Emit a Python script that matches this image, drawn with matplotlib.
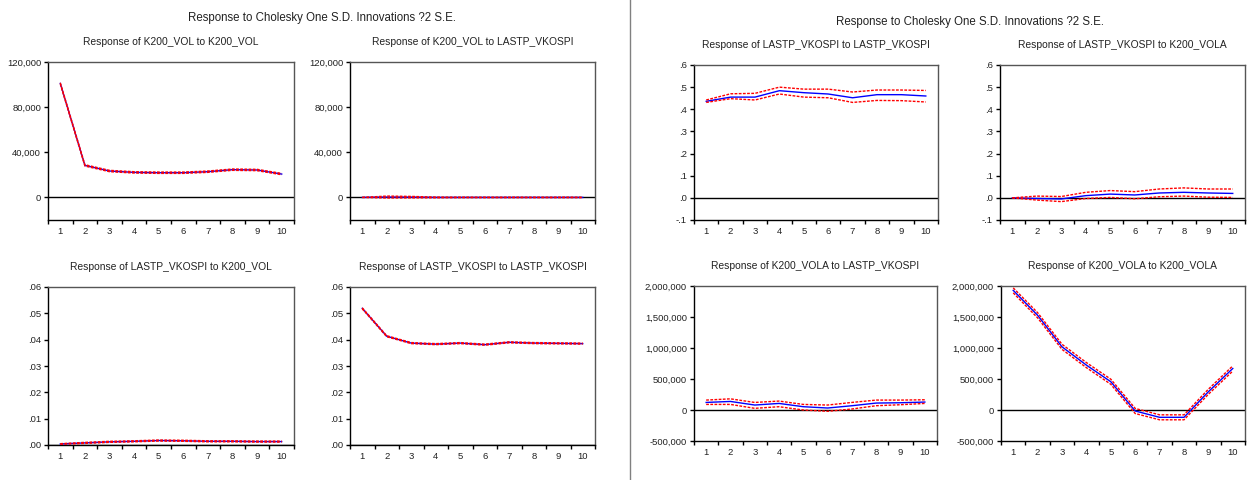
import matplotlib
matplotlib.use("Agg")
import matplotlib.pyplot as plt
from matplotlib.ticker import FixedLocator, FuncFormatter
import numpy as np

W, H = 1254, 480

periods = [1, 2, 3, 4, 5, 6, 7, 8, 9, 10]
main_title = "Response to Cholesky One S.D. Innovations ?2 S.E."

# left block (K200_VOL / LASTP_VKOSPI)
vol_vol = [101000, 28400, 23400, 22200, 21900, 21900, 22800, 24600, 24300, 20700]
vol_vol_hi = [101600, 29000, 24000, 22800, 22500, 22500, 23400, 25200, 24900, 21300]
vol_vol_lo = [100400, 27800, 22800, 21600, 21300, 21300, 22200, 24000, 23700, 20100]

vol_vk = [0, 300, 200, 0, 0, 0, 0, 0, 0, 0]
vol_vk_hi = [0, 1200, 900, 300, 200, 200, 200, 200, 200, 200]
vol_vk_lo = [0, -500, -400, -300, -200, -200, -200, -200, -200, -200]

vk_vol = [0.0004, 0.0008, 0.0012, 0.0014, 0.0017, 0.0016, 0.0014, 0.0014, 0.0013, 0.0013]
vk_vol_hi = [0.0005, 0.0010, 0.0014, 0.0016, 0.0019, 0.0018, 0.0016, 0.0016, 0.0015, 0.0015]
vk_vol_lo = [0.0003, 0.0006, 0.0010, 0.0012, 0.0015, 0.0014, 0.0012, 0.0012, 0.0011, 0.0011]

vk_vk = [0.0519, 0.0413, 0.0387, 0.0383, 0.0387, 0.0381, 0.0390, 0.0387, 0.0386, 0.0385]
vk_vk_hi = [0.0521, 0.0415, 0.0389, 0.0385, 0.0389, 0.0383, 0.0392, 0.0389, 0.0388, 0.0387]
vk_vk_lo = [0.0517, 0.0411, 0.0385, 0.0381, 0.0385, 0.0379, 0.0388, 0.0385, 0.0384, 0.0383]

# right block (LASTP_VKOSPI / K200_VOLA)
vk2_vk2 = [0.436, 0.455, 0.455, 0.484, 0.475, 0.469, 0.452, 0.466, 0.466, 0.460]
vk2_vk2_hi = [0.442, 0.470, 0.472, 0.500, 0.491, 0.491, 0.478, 0.487, 0.487, 0.485]
vk2_vk2_lo = [0.431, 0.448, 0.442, 0.469, 0.455, 0.452, 0.431, 0.440, 0.439, 0.433]

vk2_vola = [0.0, -0.003, -0.005, 0.010, 0.017, 0.013, 0.022, 0.025, 0.022, 0.020]
vk2_vola_hi = [0.0, 0.008, 0.006, 0.025, 0.033, 0.028, 0.040, 0.045, 0.040, 0.040]
vk2_vola_lo = [0.0, -0.010, -0.017, -0.003, 0.002, -0.004, 0.005, 0.008, 0.003, 0.002]

vola_vk2 = [122000, 138000, 80000, 106000, 53000, 32000, 69000, 112000, 117000, 128000]
vola_vk2_hi = [160000, 180000, 122000, 144000, 90000, 80000, 122000, 160000, 160000, 165000]
vola_vk2_lo = [90000, 90000, 27000, 53000, 0, -21000, 16000, 69000, 85000, 106000]

vola_vola = [1930000, 1528000, 1019000, 724000, 456000, -16000, -118000, -118000, 295000, 670000]
vola_vola_hi = [1970000, 1570000, 1060000, 765000, 497000, 25000, -78000, -78000, 336000, 712000]
vola_vola_lo = [1890000, 1486000, 978000, 683000, 415000, -57000, -158000, -158000, 254000, 628000]

FONT = ["Liberation Sans", "DejaVu Sans"]

fig = plt.figure(figsize=(W / 100, H / 100), dpi=100)


def rect(x0, y0, x1, y1):
    return [x0 / W, 1 - y1 / H, (x1 - x0) / W, (y1 - y0) / H]


def comma(v, pos):
    return f"{int(round(v)):,}"


def decimal(nd):
    def f(v, pos):
        s = f"{v:.{nd}f}"
        if s.startswith("-0"):
            s = "-" + s[2:]
        elif s.startswith("0"):
            s = s[1:]
        return s
    return f


def panel(box, title, mid, hi, lo, ylim, yticks, fmt):
    ax = fig.add_axes(rect(*box))
    ax.plot(periods, mid, color="#0000ff", lw=1.0, zorder=3)
    ax.plot(periods, hi, color="#ff0000", lw=1.0, ls=(0, (2, 1)), zorder=4)
    ax.plot(periods, lo, color="#ff0000", lw=1.0, ls=(0, (2, 1)), zorder=4)
    ax.axhline(0, color="black", lw=1.0, zorder=2)
    ax.set_xlim(0.5, 10.5)
    ax.set_ylim(*ylim)
    ax.xaxis.set_major_locator(FixedLocator(np.arange(0.5, 11, 1.0)))
    ax.xaxis.set_minor_locator(FixedLocator(periods))
    ax.xaxis.set_major_formatter(FuncFormatter(lambda v, p: ""))
    ax.xaxis.set_minor_formatter(FuncFormatter(lambda v, p: f"{int(v)}"))
    ax.tick_params(axis="x", which="major", length=3, width=1, direction="out")
    ax.tick_params(axis="x", which="minor", length=0, pad=5, labelsize=6.8)
    ax.set_yticks(yticks)
    ax.yaxis.set_major_formatter(FuncFormatter(fmt))
    ax.tick_params(axis="y", length=3, width=1, direction="out", pad=2, labelsize=6.8)
    for lab in ax.get_xticklabels(minor=True) + ax.get_yticklabels():
        lab.set_family(FONT)
        lab.set_color("#222222")
    for side in ["left", "bottom"]:
        ax.spines[side].set_color("black")
    for side in ["top", "right"]:
        ax.spines[side].set_color("#555555")
    for s in ax.spines.values():
        s.set_linewidth(1.0)
    cx = (box[0] + box[2]) / 2
    fig.text(cx / W, 1 - (box[1] - 20) / H, title, ha="center", va="center",
             fontsize=7.4, family=FONT, color="#222222")
    return ax


# left block
fig.text(322 / W, 1 - 18 / H, main_title, ha="center", va="center",
         fontsize=8.3, family=FONT, color="#222222")
k_ticks = [0, 40000, 80000, 120000]
panel((48, 62, 294, 220), "Response of K200_VOL to K200_VOL",
      vol_vol, vol_vol_hi, vol_vol_lo, (-20000, 120000), k_ticks, comma)
panel((350, 62, 595, 220), "Response of K200_VOL to LASTP_VKOSPI",
      vol_vk, vol_vk_hi, vol_vk_lo, (-20000, 120000), k_ticks, comma)
s_ticks = [0, 0.01, 0.02, 0.03, 0.04, 0.05, 0.06]
panel((48, 287, 294, 445), "Response of LASTP_VKOSPI to K200_VOL",
      vk_vol, vk_vol_hi, vk_vol_lo, (0, 0.06), s_ticks, decimal(2))
panel((350, 287, 595, 445), "Response of LASTP_VKOSPI to LASTP_VKOSPI",
      vk_vk, vk_vk_hi, vk_vk_lo, (0, 0.06), s_ticks, decimal(2))

# separator between the two blocks
fig.add_artist(plt.Line2D([630 / W, 630 / W], [0, 1], color="#808080", lw=1.0))

# right block
fig.text(970 / W, 1 - 22 / H, main_title, ha="center", va="center",
         fontsize=8.3, family=FONT, color="#222222")
r_ticks = [-0.1, 0, 0.1, 0.2, 0.3, 0.4, 0.5, 0.6]
panel((694, 65, 938, 220), "Response of LASTP_VKOSPI to LASTP_VKOSPI",
      vk2_vk2, vk2_vk2_hi, vk2_vk2_lo, (-0.1, 0.6), r_ticks, decimal(1))
panel((1000, 65, 1245, 220), "Response of LASTP_VKOSPI to K200_VOLA",
      vk2_vola, vk2_vola_hi, vk2_vola_lo, (-0.1, 0.6), r_ticks, decimal(1))
m_ticks = [-500000, 0, 500000, 1000000, 1500000, 2000000]
panel((694, 286, 937, 441), "Response of K200_VOLA to LASTP_VKOSPI",
      vola_vk2, vola_vk2_hi, vola_vk2_lo, (-500000, 2000000), m_ticks, comma)
panel((1001, 286, 1245, 441), "Response of K200_VOLA to K200_VOLA",
      vola_vola, vola_vola_hi, vola_vola_lo, (-500000, 2000000), m_ticks, comma)

fig.savefig("out.png", dpi=100)
